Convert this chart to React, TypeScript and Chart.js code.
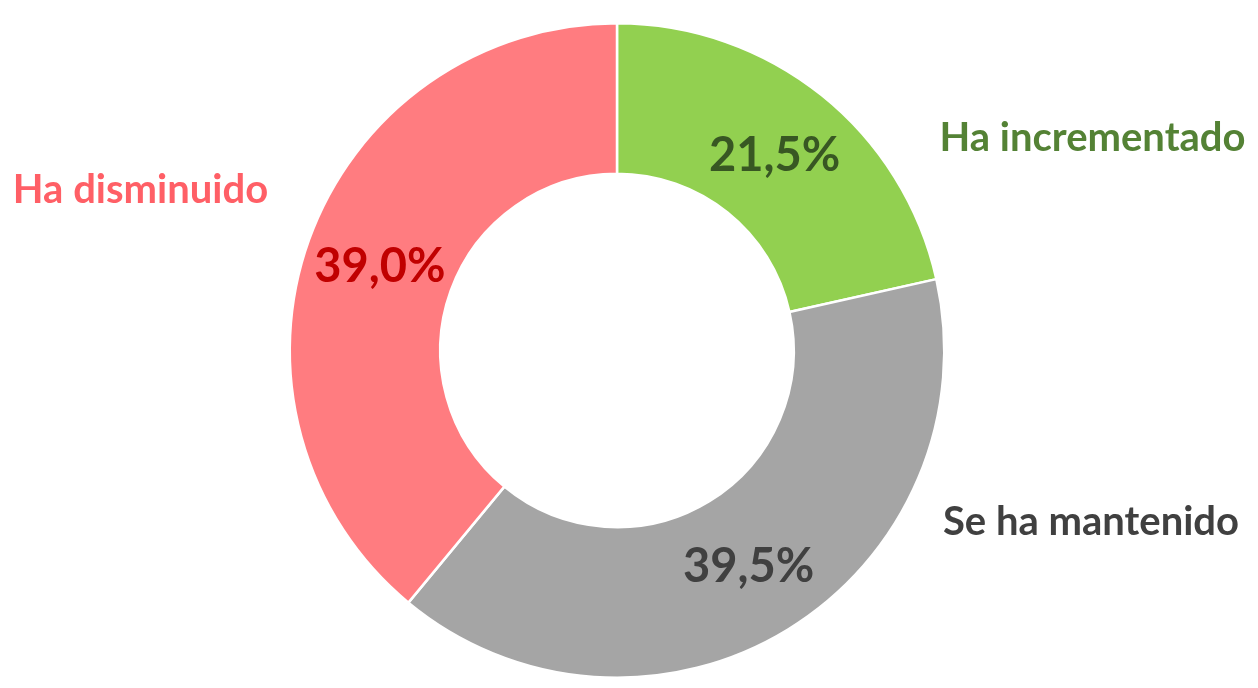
import React, { useEffect, useRef } from "react";
import { Chart, registerables } from "chart.js";

Chart.register(...registerables);

const categories = ["Ha incrementado", "Se ha mantenido", "Ha disminuido"];
const values = [21.5, 39.5, 39.0];
const percentLabels = ["21,5%", "39,5%", "39,0%"];

const sliceColors = ["#92D050", "#A5A5A5", "#FF7C80"];
const percentColors = ["#385723", "#404040", "#C00000"];
const categoryColors = ["#548235", "#404040", "#FF5F66"];
// label anchor offsets from the chart centre (style only)
const categoryOffsets = [
  { dx: 475.5, dy: -199.5 },
  { dx: 474, dy: 184.5 },
  { dx: -476.5, dy: -147.5 },
];

const FONT = "Lato, 'Open Sans', sans-serif";

const labelPlugin = {
  id: "doughnutLabels",
  afterDatasetsDraw(chart: any) {
    const meta = chart.getDatasetMeta(0);
    const ctx = chart.ctx;
    ctx.save();
    meta.data.forEach((arc: any, i: number) => {
      const p = arc.getProps(["x", "y", "startAngle", "endAngle", "innerRadius", "outerRadius"], true);
      const mid = (p.startAngle + p.endAngle) / 2;
      const r = (p.innerRadius + p.outerRadius) / 2;
      const px = p.x + Math.cos(mid) * r;
      const py = p.y + Math.sin(mid) * r;
      ctx.font = `bold 47px ${FONT}`;
      ctx.fillStyle = percentColors[i];
      ctx.textAlign = "center";
      ctx.textBaseline = "alphabetic";
      ctx.fillText(percentLabels[i], px, py + 17);

      const o = categoryOffsets[i];
      ctx.font = `bold 40px ${FONT}`;
      ctx.fillStyle = categoryColors[i];
      ctx.fillText(categories[i], p.x + o.dx, p.y + o.dy);
    });
    ctx.restore();
  },
};

export default function App() {
  const ref = useRef<HTMLCanvasElement>(null);
  useEffect(() => {
    if (!ref.current) return;
    const chart = new Chart(ref.current, {
      type: "doughnut",
      data: {
        labels: categories,
        datasets: [
          {
            data: values,
            backgroundColor: sliceColors,
            borderColor: "#FFFFFF",
            borderWidth: 2.5,
          },
        ],
      },
      options: {
        responsive: false,
        animation: false,
        cutout: "54%",
        layout: { padding: { left: 288, right: 312, top: 22, bottom: 9 } },
        plugins: {
          legend: { display: false },
          tooltip: { enabled: false },
        },
      },
      plugins: [labelPlugin],
    });
    return () => chart.destroy();
  }, []);
  return (
    <div style={{ position: "fixed", left: 0, top: 0, width: 1258, height: 688, background: "#fff" }}>
      <canvas ref={ref} width={1258} height={688} style={{ width: 1258, height: 688, display: "block" }} />
    </div>
  );
}
